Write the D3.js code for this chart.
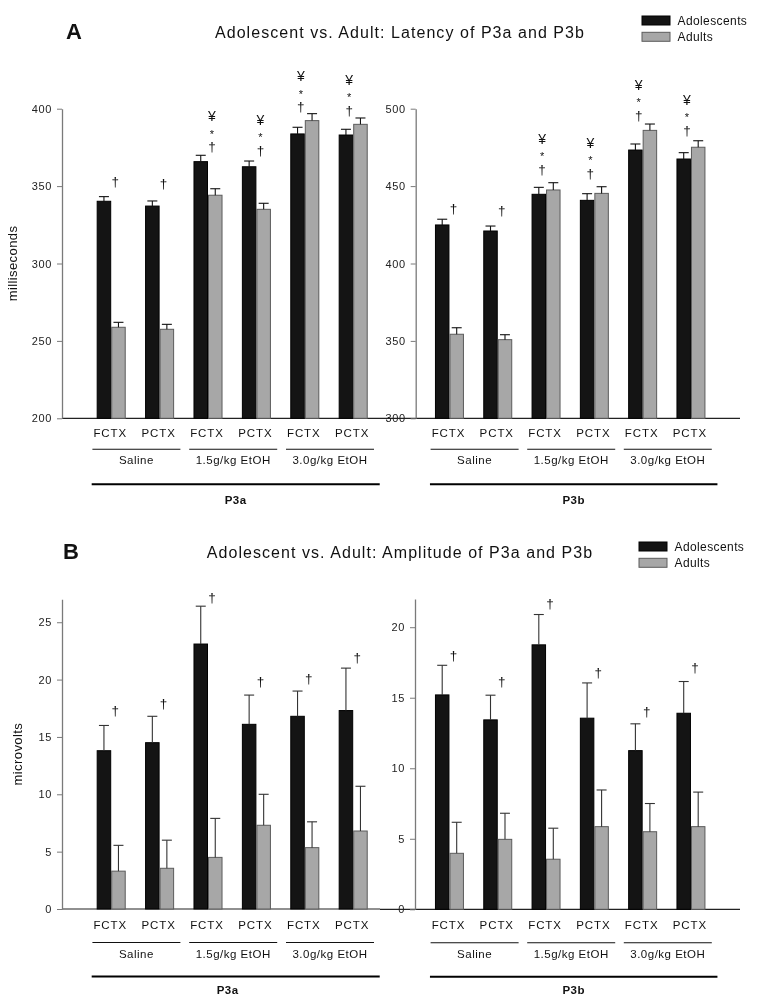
<!DOCTYPE html>
<html>
<head>
<meta charset="utf-8">
<script src="https://cdn.jsdelivr.net/npm/d3@7"></script>
<style>
  html, body { margin: 0; padding: 0; background: #fff; }
  svg { display: block; font-family: "Liberation Sans", Arial, sans-serif; filter: grayscale(1); }
</style>
</head>
<body>
<svg id="chart" width="757" height="998"></svg>
<script>
// ---------------- DATA ----------------
const groups = ["Saline", "1.5g/kg EtOH", "3.0g/kg EtOH"];
const sites = ["FCTX", "PCTX"];
const categories = ["Saline|FCTX", "Saline|PCTX", "1.5|FCTX", "1.5|PCTX", "3.0|FCTX", "3.0|PCTX"];
const categoryLabels = ["FCTX", "PCTX", "FCTX", "PCTX", "FCTX", "PCTX"];
const seriesNames = ["Adolescents", "Adults"];

// Latency (ms)
const latP3aAdol = [340.2, 337.1, 365.8, 362.5, 383.7, 383.0];
const latP3aAdolSE = [3.0, 3.3, 4.1, 3.7, 4.3, 3.7];
const latP3aAdult = [258.8, 257.5, 344.1, 335.0, 392.3, 389.9];
const latP3aAdultSE = [3.2, 3.2, 4.2, 3.9, 4.5, 4.1];
const latP3bAdol = [424.9, 421.0, 444.7, 440.8, 473.3, 467.5];
const latP3bAdolSE = [3.7, 3.2, 4.5, 4.3, 3.9, 4.1];
const latP3bAdult = [354.3, 350.8, 447.5, 445.3, 486.0, 475.1];
const latP3bAdultSE = [4.2, 3.2, 4.7, 4.3, 4.1, 4.2];

// Amplitude (microvolts)
const ampP3aAdol = [13.8, 14.5, 23.1, 16.1, 16.8, 17.3];
const ampP3aAdolSE = [2.2, 2.3, 3.3, 2.55, 2.2, 3.7];
const ampP3aAdult = [3.3, 3.55, 4.5, 7.3, 5.35, 6.8];
const ampP3aAdultSE = [2.25, 2.45, 3.4, 2.7, 2.25, 3.9];
const ampP3bAdol = [15.2, 13.43, 18.75, 13.55, 11.25, 13.9];
const ampP3bAdolSE = [2.1, 1.75, 2.15, 2.5, 1.9, 2.25];
const ampP3bAdult = [3.97, 4.96, 3.55, 5.86, 5.5, 5.86];
const ampP3bAdultSE = [2.2, 1.85, 2.2, 2.6, 2.0, 2.45];

// Significance marks (bottom to top) and the value level where they sit
const latMarks = ["†", "†", "†*¥", "†*¥", "†*¥", "†*¥"];
const ampMarks = ["†", "†", "†", "†", "†", "†"];
const latP3aMarkAt = [348.6, 347.5, 371.2, 369.0, 397.0, 394.8];
const latP3bMarkAt = [431.3, 430.2, 456.7, 454.0, 491.6, 481.9];
const ampP3aMarkAt = [16.78, 17.36, 26.59, 19.26, 19.55, 21.38];
const ampP3bMarkAt = [17.56, 15.67, 21.23, 16.31, 13.55, 16.69];

// Axis ticks
const latP3aTicks = [200, 250, 300, 350, 400];
const latP3bTicks = [300, 350, 400, 450, 500];
const ampP3aTicks = [0, 5, 10, 15, 20, 25];
const ampP3bTicks = [0, 5, 10, 15, 20];

const titleA = "Adolescent vs. Adult: Latency of P3a and P3b";
const titleB = "Adolescent vs. Adult: Amplitude of P3a and P3b";

// ---------------- STYLE ----------------
const colors = { Adolescents: "#141414", Adults: "#a7a7a7" };
const strokes = { Adolescents: "#000", Adults: "#5c5c5c" };

const svg = d3.select("#chart");

function panel(cfg) {
  const g = svg.append("g");
  const y = d3.scaleLinear().domain(cfg.domain).range([cfg.yBot, cfg.yTop]);
  const x = d3.scaleBand().domain(categories).range(cfg.xRange).paddingInner(0.4).paddingOuter(0.2);
  const xs = d3.scaleBand().domain(seriesNames).range([0, x.bandwidth()]);

  // x axis baseline
  g.append("line").attr("x1", cfg.xLine[0]).attr("x2", cfg.xLine[1])
    .attr("y1", cfg.yBot).attr("y2", cfg.yBot).attr("stroke", "#222").attr("stroke-width", 1.2);

  // y axis
  const ya = g.append("g").attr("transform", `translate(${cfg.axisX},0)`)
    .call(d3.axisLeft(y).tickValues(cfg.ticks).tickSize(5).tickSizeOuter(0).tickPadding(5));
  ya.select(".domain").attr("stroke", "#7a7a7a").attr("stroke-width", 1.3);
  ya.selectAll(".tick line").attr("stroke", "#7a7a7a");
  ya.selectAll(".tick text").attr("font-size", 11).attr("letter-spacing", 0.6)
    .attr("fill", "#222").attr("font-family", "Liberation Sans, Arial, sans-serif");

  // bars
  const series = [
    { name: "Adolescents", vals: cfg.adol, se: cfg.adolSE },
    { name: "Adults", vals: cfg.adult, se: cfg.adultSE }
  ];
  series.forEach(s => {
    const data = categories.map((c, i) => ({ c, v: s.vals[i], e: s.se[i] }));
    g.selectAll(null).data(data).enter().append("rect")
      .attr("x", d => x(d.c) + xs(s.name) + 0.5)
      .attr("width", xs.bandwidth() - 1)
      .attr("y", d => y(d.v))
      .attr("height", d => y(cfg.domain[0]) - y(d.v))
      .attr("fill", colors[s.name])
      .attr("stroke", strokes[s.name]).attr("stroke-width", 1);
    // error bars (upper only)
    const eb = g.selectAll(null).data(data).enter().append("g");
    const cx = d => x(d.c) + xs(s.name) + xs.bandwidth() / 2;
    eb.append("line").attr("x1", cx).attr("x2", cx)
      .attr("y1", d => y(d.v)).attr("y2", d => y(d.v + d.e))
      .attr("stroke", cfg.errColor).attr("stroke-width", 1.1);
    eb.append("line").attr("x1", d => cx(d) - 5).attr("x2", d => cx(d) + 5)
      .attr("y1", d => y(d.v + d.e)).attr("y2", d => y(d.v + d.e))
      .attr("stroke", cfg.errColor).attr("stroke-width", 1.1);
  });

  // significance marks: one text element per stack, one tspan per symbol
  const markDy = { "†": 0, "*": -13.5, "¥": -30 };
  const markSize = { "†": 13.5, "*": 11, "¥": 14 };
  categories.forEach((c, i) => {
    const mx = x(c) + x.bandwidth() / 2 + (cfg.adult[i] > cfg.adol[i] ? -4 : 4);
    const base = y(cfg.markAt[i]) - 2;
    const t = g.append("text").attr("text-anchor", "middle").attr("fill", "#111");
    Array.from(cfg.marks[i]).forEach(m => {
      t.append("tspan").attr("x", mx).attr("y", base + markDy[m])
        .attr("font-size", markSize[m]).text(m);
    });
  });

  // category labels
  categories.forEach((c, i) => {
    g.append("text").attr("x", x(c) + x.bandwidth() / 2 - 1)
      .attr("y", cfg.yBot + cfg.off.cat).attr("dy", "0.35em")
      .attr("text-anchor", "middle").attr("font-size", 11.5).attr("letter-spacing", 0.9)
      .attr("fill", "#111").text(categoryLabels[i]);
  });

  // group lines + labels
  groups.forEach((gr, gi) => {
    const c0 = categories[gi * 2], c1 = categories[gi * 2 + 1];
    const mid = (x(c0) + x(c1) + x.bandwidth()) / 2 + 1;
    g.append("line").attr("x1", mid - 44).attr("x2", mid + 44)
      .attr("y1", cfg.yBot + cfg.off.gline).attr("y2", cfg.yBot + cfg.off.gline)
      .attr("stroke", "#111").attr("stroke-width", 1.1);
    g.append("text").attr("x", mid).attr("y", cfg.yBot + cfg.off.glabel).attr("dy", "0.35em")
      .attr("text-anchor", "middle").attr("font-size", 11.5).attr("letter-spacing", 0.5)
      .attr("fill", "#111").text(gr);
  });

  // component line + label
  const bx0 = x(categories[0]) - 5;
  const bx1 = x(categories[categories.length - 1]) + x.bandwidth() + 12;
  g.append("line").attr("x1", bx0).attr("x2", bx1)
    .attr("y1", cfg.yBot + cfg.off.big).attr("y2", cfg.yBot + cfg.off.big)
    .attr("stroke", "#000").attr("stroke-width", 2);
  g.append("text").attr("x", (bx0 + bx1) / 2 + cfg.compDx).attr("y", cfg.yBot + cfg.off.comp).attr("dy", "0.35em")
    .attr("text-anchor", "middle").attr("font-size", 11.5).attr("font-weight", "bold")
    .attr("letter-spacing", 0.5).attr("fill", "#111").text(cfg.comp);

  // y label
  if (cfg.ylabel) {
    g.append("text").attr("transform", `translate(${cfg.ylabelX},${(cfg.yTop + cfg.yBot) / 2}) rotate(-90)`)
      .attr("text-anchor", "middle").attr("dy", "0.35em").attr("font-size", 13).attr("letter-spacing", 0.4)
      .attr("fill", "#111").text(cfg.ylabel);
  }
}

function header(letter, title, ty, lx, ly) {
  svg.append("text").attr("x", lx).attr("y", ty + 1).attr("font-size", 22).attr("font-weight", "bold")
    .attr("fill", "#111").text(letter);
  svg.append("text").attr("x", 400).attr("y", ty).attr("text-anchor", "middle")
    .attr("font-size", 16).attr("letter-spacing", 1.05).attr("fill", "#111").text(title);
  seriesNames.forEach((s, i) => {
    svg.append("rect").attr("x", lx + 576).attr("y", ly + i * 16.3).attr("width", 28).attr("height", 9)
      .attr("fill", colors[s]).attr("stroke", strokes[s]).attr("stroke-width", 1);
    svg.append("text").attr("x", lx + 611.5).attr("y", ly + i * 16.3 + 4.5).attr("dy", "0.35em")
      .attr("font-size", 12).attr("letter-spacing", 0.4).attr("fill", "#111").text(s);
  });
}

const offA = { cat: 14.2, gline: 31, glabel: 42, big: 66, comp: 82 };
const offB = { cat: 16, gline: 33.5, glabel: 44.5, big: 67.5, comp: 81 };

header("A", titleA, 37.5, 66, 16);
header("B", titleB, 557.5, 63, 542);

panel({ domain: [200, 400], ticks: latP3aTicks, yTop: 108.7, yBot: 418.3, axisX: 62,
  xRange: [87, 377.4], xLine: [62, 380], adol: latP3aAdol, adolSE: latP3aAdolSE,
  adult: latP3aAdult, adultSE: latP3aAdultSE, marks: latMarks, markAt: latP3aMarkAt,
  errColor: "#111", off: offA, comp: "P3a", compDx: 0, ylabel: "milliseconds", ylabelX: 12.5 });
panel({ domain: [300, 500], ticks: latP3bTicks, yTop: 108.7, yBot: 418.3, axisX: 415.7,
  xRange: [425.3, 715.1], xLine: [380, 740], adol: latP3bAdol, adolSE: latP3bAdolSE,
  adult: latP3bAdult, adultSE: latP3bAdultSE, marks: latMarks, markAt: latP3bMarkAt,
  errColor: "#111", off: offA, comp: "P3b", compDx: 0 });
panel({ domain: [0, 27], ticks: ampP3aTicks, yTop: 599.3, yBot: 909, axisX: 62,
  xRange: [87, 377.4], xLine: [62, 380], adol: ampP3aAdol, adolSE: ampP3aAdolSE,
  adult: ampP3aAdult, adultSE: ampP3aAdultSE, marks: ampMarks, markAt: ampP3aMarkAt,
  errColor: "#333", off: offB, comp: "P3a", compDx: -8, ylabel: "microvolts", ylabelX: 17.5 });
panel({ domain: [0, 22], ticks: ampP3bTicks, yTop: 599, yBot: 909.3, axisX: 415,
  xRange: [425.3, 715.1], xLine: [380, 740], adol: ampP3bAdol, adolSE: ampP3bAdolSE,
  adult: ampP3bAdult, adultSE: ampP3bAdultSE, marks: ampMarks, markAt: ampP3bMarkAt,
  errColor: "#333", off: offB, comp: "P3b", compDx: 0 });
</script>
</body>
</html>
